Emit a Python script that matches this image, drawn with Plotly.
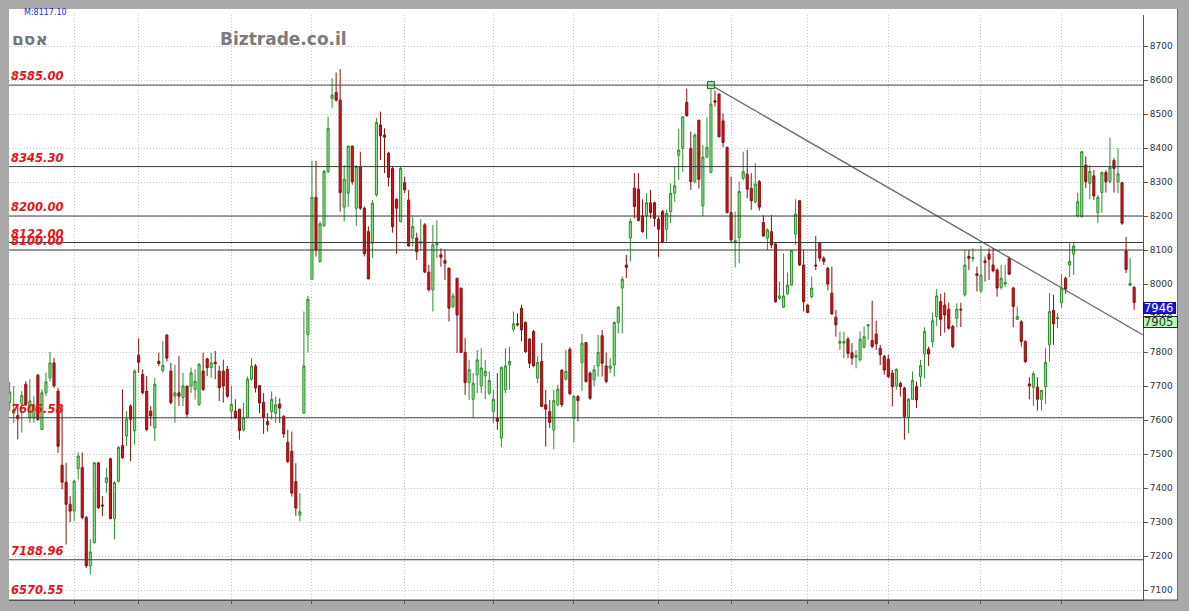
import plotly.graph_objects as go

# ---------------- data ----------------
opens = [7651,7620,7613,7649,7705,7607,7607,7732,7572,7680,7724,7768,7685,7467,7417,7352,7332,7457,7460,7313,
         7171,7239,7474,7350,7416,7486,7310,7420,7525,7553,7641,7568,7790,7734,7685,7626,7577,7773,7745,7850,
         7744,7670,7680,7666,7700,7700,7690,7646,7744,7780,7754,7770,7744,7744,7749,7626,7626,7632,7571,7608,
         7720,7759,7701,7652,7596,7625,7620,7647,7610,7534,7508,7419,7320,7620,7851,8014,8255,8066,8171,8331,
         8546,8563,8541,8226,8267,8406,8223,8345,8223,8154,8120,8262,8468,8438,8385,8340,8249,8184,8298,8247,
         8135,8135,8120,8174,8035,7983,8115,8086,8069,8047,7934,8017,7988,7799,7710,7661,7733,7701,7730,7679,
         7625,7605,7547,7689,7762,7867,7883,7929,7887,7838,7860,7723,7772,7645,7625,7571,7645,7746,7720,7808,
         7605,7669,7769,7828,7738,7718,7759,7848,7759,7752,7762,7887,7988,8056,8135,8282,8279,8200,8200,8239,
         8239,8191,8213,8161,8213,8267,8379,8399,8534,8399,8301,8482,8230,8373,8328,8539,8559,8480,8402,8210,
         8122,8137,8311,8323,8281,8242,8301,8181,8135,8154,8118,7958,7932,7971,7997,8147,8245,8056,7938,7963,
         8056,8120,8076,8046,7973,7902,7826,7826,7838,7798,7785,7777,7814,7877,7834,7853,7811,7787,7779,7738,
         7700,7708,7694,7608,7661,7698,7728,7794,7808,7831,7904,7948,7938,7926,7875,7899,7926,7968,8081,8075,
         8030,7980,8068,8088,8056,8041,7990,8000,8076,7988,7896,7889,7831,7706,7696,7696,7661,7698,7821,7922,
         7898,7945,8017,8056,8088,8200,8198,8350,8296,8318,8210,8269,8328,8301,8363,8301,8298,8098,7996,7990]
highs = [7712,7700,7641,7685,7714,7720,7670,7735,7690,7739,7800,7783,7695,7640,7474,7376,7425,7504,7504,7318,
         7249,7476,7476,7376,7460,7489,7420,7523,7690,7626,7646,7749,7840,7749,7729,7641,7724,7798,7832,7852,
         7768,7763,7788,7739,7700,7754,7749,7768,7798,7783,7798,7803,7759,7778,7759,7700,7661,7632,7650,7728,
         7782,7765,7703,7679,7620,7684,7669,7664,7615,7571,7566,7473,7385,7919,7965,8363,8363,8184,8336,8492,
         8605,8622,8632,8350,8406,8406,8350,8389,8228,8169,8247,8488,8507,8458,8389,8345,8252,8345,8316,8277,
         8198,8151,8191,8179,8056,8174,8187,8105,8102,8047,7973,8017,7988,7841,7777,7738,7806,7811,7777,7743,
         7689,7738,7757,7811,7816,7919,7914,7939,7890,7841,7865,7787,7826,7689,7659,7689,7704,7750,7806,7814,
         7674,7674,7853,7828,7743,7762,7850,7865,7799,7782,7890,7934,8022,8086,8193,8326,8326,8249,8267,8277,
         8242,8198,8218,8218,8296,8345,8457,8492,8575,8448,8443,8482,8409,8490,8585,8569,8559,8502,8404,8316,
         8213,8301,8389,8394,8326,8355,8306,8203,8164,8203,8120,8007,8090,8034,8100,8249,8247,8100,7941,8022,
         8141,8120,8081,8051,8051,7924,7860,7860,7845,7826,7806,7860,7875,7882,7951,7892,7821,7792,7792,7747,
         7752,7713,7698,7664,7743,7713,7777,7873,7816,7916,7985,7971,7975,7945,7880,7943,7945,8100,8100,8105,
         8051,8112,8081,8105,8105,8046,8056,8056,8081,7992,7934,7894,7834,7726,7743,7726,7689,7811,7973,7968,
         7914,8029,8022,8120,8120,8269,8392,8375,8350,8335,8262,8331,8335,8431,8370,8399,8301,8139,8076,7994]
lows = [7626,7592,7543,7563,7641,7592,7592,7597,7570,7670,7714,7695,7504,7396,7234,7300,7303,7425,7308,7165,
        7146,7237,7339,7317,7386,7308,7249,7416,7486,7523,7479,7528,7739,7675,7567,7582,7538,7759,7740,7772,
        7646,7592,7641,7641,7607,7680,7660,7641,7685,7729,7724,7720,7656,7651,7665,7602,7602,7542,7566,7605,
        7716,7681,7620,7559,7566,7601,7591,7591,7547,7473,7375,7318,7302,7620,7799,8014,8081,8063,8169,8326,
        8517,8536,8213,8184,8226,8292,8171,8218,8081,8015,8076,8257,8365,8326,8287,8151,8089,8181,8267,8110,
        8110,8071,8100,8032,7978,7919,8076,8051,8012,7890,7929,7797,7797,7674,7659,7605,7679,7679,7661,7674,
        7591,7571,7520,7679,7689,7860,7875,7831,7797,7753,7757,7708,7638,7522,7576,7514,7640,7638,7716,7674,
        7534,7596,7686,7710,7659,7699,7728,7728,7708,7738,7728,7855,7855,8017,8066,8193,8184,8151,8132,8193,
        8169,8079,8120,8125,8179,8242,8306,8330,8492,8277,8296,8281,8200,8370,8326,8522,8431,8402,8208,8122,
        8049,8061,8306,8252,8218,8237,8216,8139,8100,8105,7945,7953,7929,7968,7994,8115,8053,7919,7914,7958,
        8041,8066,8056,7981,7909,7845,7806,7782,7782,7762,7752,7772,7811,7836,7811,7806,7762,7733,7723,7640,
        7689,7669,7542,7561,7659,7635,7698,7723,7759,7814,7877,7847,7857,7865,7811,7873,7873,7963,8041,8066,
        7978,7973,8007,8012,8034,7963,7983,7992,8027,7873,7894,7816,7767,7661,7642,7628,7628,7647,7772,7821,
        7870,7929,7971,8020,8027,8196,8196,8282,8249,8247,8179,8210,8269,8296,8269,8267,8174,8032,7994,7924]
closes = [7682,7630,7604,7672,7646,7656,7646,7602,7680,7712,7768,7700,7523,7417,7352,7332,7420,7494,7313,7171,
          7212,7474,7342,7347,7430,7310,7416,7519,7489,7602,7602,7744,7770,7680,7572,7612,7705,7766,7760,7782,
          7651,7680,7670,7700,7617,7739,7714,7763,7690,7754,7768,7766,7695,7700,7670,7646,7607,7569,7606,7720,
          7759,7694,7650,7608,7586,7661,7645,7635,7559,7478,7385,7341,7330,7759,7955,8255,8100,8177,8331,8458,
          8556,8541,8269,8308,8406,8301,8345,8223,8089,8015,8238,8475,8436,8432,8314,8169,8223,8340,8277,8112,
          8169,8095,8125,8035,7983,8115,8120,8079,8061,7929,7965,7909,7799,7710,7748,7708,7777,7753,7743,7716,
          7661,7596,7755,7759,7772,7883,7880,7865,7801,7767,7759,7769,7640,7632,7593,7657,7691,7645,7743,7677,
          7669,7657,7826,7713,7664,7748,7799,7767,7713,7759,7887,7932,8014,8049,8184,8228,8187,8154,8239,8210,
          8193,8161,8122,8208,8267,8289,8394,8492,8495,8301,8438,8308,8373,8402,8529,8535,8433,8416,8210,8130,
          8128,8272,8330,8279,8245,8294,8226,8141,8159,8115,7948,7965,7965,7997,8098,8206,8056,7948,7916,7988,
          8053,8076,8066,8000,7912,7880,7831,7831,7796,7782,7790,7838,7845,7880,7816,7824,7792,7747,7728,7698,
          7749,7698,7610,7661,7716,7659,7760,7860,7794,7892,7965,7896,7909,7870,7816,7926,7924,8056,8076,8078,
          8025,8026,8063,8073,8039,7988,8017,8004,8029,7934,7904,7831,7772,7700,7736,7661,7687,7769,7919,7883,
          7901,7988,7985,8066,8112,8242,8389,8301,8331,8259,8255,8328,8301,8343,8340,8324,8179,8043,8002,7946]
sessions = list(range(1, len(opens) + 1))

month_starts = [17, 33, 56, 76, 99, 121, 141, 162, 180, 199, 219, 242, 262]
price_ticks = list(range(7100, 8701, 100))

levels = [8585.00, 8345.30, 8200.00, 8122.00, 8100.00, 7606.58, 7188.96, 6570.55]
trend_x = [175, 282.2]
trend_y = [8585, 7850]
anchor_x = [175]
anchor_y = [8585]

last_price = 7946
second_price = 7905
symbol_name = "אסם"
site_name = "Biztrade.co.il"
top_note = "M:8117.10"

X_RANGE = [0.83, 282.2]
Y_RANGE = [7070.6, 8791.2]
FRAME_GRAY = "#a9a9a9"

# ---------------- figure ----------------
fig = go.Figure()

fig.add_trace(go.Candlestick(
    x=sessions, open=opens, high=highs, low=lows, close=closes,
    increasing=dict(line=dict(color="#2e8f2e", width=1), fillcolor="#8fe38f"),
    decreasing=dict(line=dict(color="#8a1010", width=1), fillcolor="#d0141c"),
    whiskerwidth=0, showlegend=False, hoverinfo="skip",
))

fig.add_trace(go.Scatter(
    x=trend_x, y=trend_y, mode="lines",
    line=dict(color="#6e6e6e", width=1.4), showlegend=False, hoverinfo="skip",
))
fig.add_trace(go.Scatter(
    x=anchor_x, y=anchor_y, mode="markers",
    marker=dict(symbol="square", size=7, color="#a6eea6", line=dict(color="#2f5f2f", width=1)),
    showlegend=False, hoverinfo="skip",
))

shapes = []
# white card behind plot + right axis
shapes.append(dict(type="rect", xref="paper", yref="paper", x0=0, x1=1.0309, y0=0, y1=1.0103,
                   fillcolor="white", line=dict(width=0), layer="below"))
shapes.append(dict(type="line", xref="paper", yref="paper", x0=1.0304, x1=1.0304, y0=0, y1=1.0103,
                   line=dict(color="#6a6a6a", width=1)))
shapes.append(dict(type="line", xref="paper", yref="paper", x0=0, x1=1.0309, y0=0, y1=0,
                   line=dict(color="#555555", width=1)))
for lv in levels:
    if Y_RANGE[0] <= lv <= Y_RANGE[1]:
        shapes.append(dict(type="line", xref="paper", yref="y", x0=0, x1=1, y0=lv, y1=lv,
                           line=dict(color="#3c3c3c", width=1), layer="above"))

annotations = []
lvl_font = dict(family="DejaVu Sans", size=11.5, color="#e4141b", weight="bold", style="italic")
for lv in levels:
    txt = f"{lv:.2f}"
    if Y_RANGE[0] <= lv <= Y_RANGE[1]:
        annotations.append(dict(x=0, xref="paper", y=lv, yref="y", text=txt, showarrow=False,
                                xanchor="left", yanchor="bottom", yshift=0, font=lvl_font))
    else:
        annotations.append(dict(x=0, xref="paper", y=0, yref="paper", text=txt, showarrow=False,
                                xanchor="left", yanchor="bottom", yshift=1, font=lvl_font))

annotations.append(dict(x=0.001, xref="paper", y=0.959, yref="paper", text=symbol_name, showarrow=False,
                        xanchor="left", yanchor="middle",
                        font=dict(family="DejaVu Sans", size=17, color="#777777", weight="bold")))
annotations.append(dict(x=0.1843, xref="paper", y=0.959, yref="paper", text=site_name, showarrow=False,
                        xanchor="left", yanchor="middle",
                        font=dict(family="DejaVu Sans", size=17, color="#7b7b7b", weight="bold")))
annotations.append(dict(x=0.0115, xref="paper", y=1.004, yref="paper", text=top_note, showarrow=False,
                        xanchor="left", yanchor="middle",
                        font=dict(family="DejaVu Sans", size=8, color="#2a2ad0")))

annotations.append(dict(x=1.0, xref="paper", y=last_price, yref="y", text=str(last_price), showarrow=False,
                        xanchor="left", yanchor="top", width=31, height=10, align="left",
                        bgcolor="#1818d8", bordercolor="#0a0a90", borderwidth=1, borderpad=0,
                        font=dict(family="DejaVu Sans", size=11.5, color="white")))
annotations.append(dict(x=1.0, xref="paper", y=second_price, yref="y", text=str(second_price), showarrow=False,
                        xanchor="left", yanchor="top", width=33, height=10, align="left",
                        bgcolor="#b8f4b8", bordercolor="#2a2a2a", borderwidth=1, borderpad=0,
                        font=dict(family="DejaVu Sans", size=11.5, color="#1e3a1e")))

fig.update_layout(
    width=1189, height=611,
    margin=dict(l=9, r=46, t=15, b=11),
    paper_bgcolor=FRAME_GRAY,
    plot_bgcolor="white",
    boxgap=0.25,
    shapes=shapes,
    annotations=annotations,
    showlegend=False,
    xaxis=dict(
        range=X_RANGE, rangeslider=dict(visible=False),
        tickvals=month_starts, showticklabels=False,
        ticks="outside", ticklen=3, tickcolor="#555555",
        showgrid=True, gridcolor="#c4c4c4", griddash="1px,2px", gridwidth=1,
        showline=True, linecolor="#555555", linewidth=1, zeroline=False,
    ),
    yaxis=dict(
        range=Y_RANGE, side="right", tickvals=price_ticks,
        ticks="outside", ticklen=4, tickcolor="#555555",
        tickfont=dict(family="DejaVu Sans", size=9, color="#333333"),
        showgrid=True, gridcolor="#c4c4c4", griddash="1px,2px", gridwidth=1,
        showline=True, linecolor="#555555", linewidth=1, zeroline=False,
    ),
)

fig.write_html(
    "out.html",
    config={"displayModeBar": False},
    post_script="document.body.style.margin='0';document.body.style.background='%s';" % FRAME_GRAY,
)
